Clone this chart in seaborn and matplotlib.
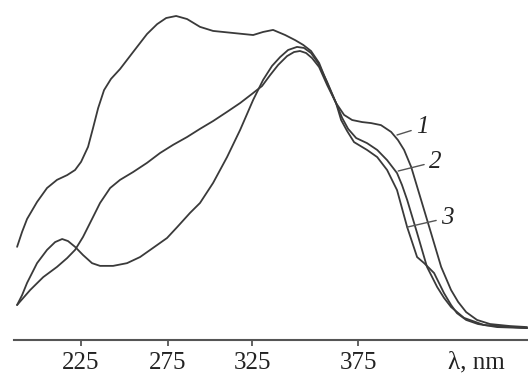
import numpy as np
import pandas as pd
import matplotlib
matplotlib.use("Agg")
import matplotlib.pyplot as plt
import seaborn as sns

# absorption spectra, wavelength (nm) vs absorbance (arb. units)
wl_1 = [187.8, 190.7, 193.6, 199.4, 205.2, 211.0, 216.9, 221.5, 225.0, 229.0, 231.9, 234.8,
        238.2, 242.2, 247.4, 254.9, 262.9, 268.7, 273.9, 279.8, 286.3, 294.0, 301.8, 313.7,
        325.5, 330.2, 334.9, 340.6, 345.3, 349.1, 352.8, 356.6, 360.4, 364.6, 368.4, 372.2,
        376.7, 380.5, 384.7, 389.0, 391.9, 394.5, 397.5, 401.7, 405.9, 410.2, 414.4, 417.4,
        420.8, 425.4, 430.9, 439.4, 446.6]
abs_1 = [.274, .318, .356, .406, .447, .471, .485, .500, .524, .568, .624, .682,
         .735, .768, .797, .847, .900, .929, .947, .953, .944, .921, .909, .903,
         .897, .906, .912, .897, .882, .868, .850, .815, .756, .697, .662, .647,
         .641, .638, .632, .612, .588, .559, .509, .412, .315, .215, .147, .112,
         .082, .059, .047, .041, .038]

wl_2 = [187.8, 195.4, 203.0, 211.0, 216.9, 221.5, 226.1, 231.9, 235.9, 241.7, 247.4, 254.9,
        262.9, 270.4, 278.0, 286.3, 294.0, 301.8, 310.1, 317.9, 325.0, 329.7, 333.5, 337.3,
        341.5, 344.8, 347.6, 350.5, 353.3, 356.6, 360.4, 364.6, 367.5, 370.3, 374.1, 378.8,
        383.1, 387.3, 391.5, 393.6, 395.8, 400.0, 404.2, 408.5, 411.4, 414.4, 419.9, 428.4,
        446.6]
abs_2 = [.103, .147, .185, .215, .241, .265, .303, .362, .403, .447, .471, .494,
         .521, .550, .574, .597, .621, .644, .671, .697, .724, .747, .779, .809,
         .835, .847, .850, .844, .829, .803, .750, .697, .653, .621, .594, .579,
         .559, .529, .491, .456, .412, .315, .215, .156, .124, .097, .065, .044,
         .035]

wl_3 = [187.8, 190.7, 193.6, 199.4, 205.2, 209.9, 214.0, 217.4, 221.5, 226.1, 231.3, 235.9,
        243.4, 251.4, 258.9, 266.4, 274.4, 280.4, 288.1, 294.0, 301.8, 310.1, 317.9, 325.5,
        330.2, 334.4, 338.2, 342.0, 346.2, 349.5, 352.8, 356.1, 360.4, 364.6, 367.0, 369.8,
        373.1, 378.8, 383.1, 387.3, 391.5, 395.8, 400.0, 403.0, 407.2, 411.4, 414.4, 416.9,
        420.8, 425.8, 433.9, 446.6]
abs_3 = [.103, .132, .168, .226, .265, .288, .297, .291, .274, .250, .226, .218,
         .218, .226, .244, .271, .300, .332, .374, .403, .462, .538, .618, .706,
         .765, .806, .832, .853, .862, .859, .844, .815, .759, .697, .647, .615,
         .582, .559, .538, .500, .441, .332, .244, .226, .197, .138, .103, .079,
         .059, .047, .038, .035]

curve_names = ["1", "2", "3"]
label_text_at = [(402.1, .626), (407.6, .524), (412.7, .359)]
label_points_to = [(391.5, .603), (392.0, .497), (395.8, .332)]

tick_nm = [225, 275, 325, 375, 425]
tick_text = ["225", "275", "325", "375", "λ, nm"]

# the printed axis is not evenly spaced, so map nm to position piecewise
knot_nm = [100, 175, 225, 275, 325, 375, 425, 475, 600]
knot_pos = [-134, -5, 81, 168, 252, 358, 476, 594, 889]


def fwd(x):
    return np.interp(x, knot_nm, knot_pos)


def inv(p):
    return np.interp(p, knot_pos, knot_nm)


frames = []
for name, wl, ab in zip(curve_names, [wl_1, wl_2, wl_3], [abs_1, abs_2, abs_3]):
    frames.append(pd.DataFrame({"wl": wl, "A": ab, "curve": name}))
data = pd.concat(frames, ignore_index=True)

sns.set_style("white")
plt.rcParams["font.family"] = ["Liberation Serif", "DejaVu Serif"]

fig = plt.figure(figsize=(5.28, 3.75), dpi=100)
ax = fig.add_axes([14 / 528, 35 / 375, 1 - 14 / 528, 340 / 375])
ax.set_xscale("function", functions=(fwd, inv))

sns.lineplot(data=data, x="wl", y="A", hue="curve", units="curve", estimator=None,
             palette=["#3a3a3a"] * 3, linewidth=1.3, sort=False, legend=False, ax=ax,
             solid_joinstyle="round", solid_capstyle="round")

ax.set_xlim(186.0, 447.0)
ax.set_ylim(0, 1.0)

for name, (tx, ty), (px, py) in zip(curve_names, label_text_at, label_points_to):
    ax.annotate(name, xy=(px, py), xytext=(tx, ty), fontsize=18, style="italic",
                ha="center", va="center", color="#222222",
                arrowprops=dict(arrowstyle="-", color="#555555", lw=1.0,
                                shrinkA=1, shrinkB=0))

for side in ["top", "right", "left"]:
    ax.spines[side].set_visible(False)
ax.spines["bottom"].set_color("#555555")
ax.spines["bottom"].set_linewidth(1.5)

ax.set_yticks([])
ax.set_xticks(tick_nm)
ax.set_xticklabels(tick_text)
ax.xaxis.set_minor_locator(matplotlib.ticker.NullLocator())
ax.tick_params(axis="x", direction="out", length=4.5, width=1.3, color="#555555",
               labelsize=18, pad=4, labelcolor="#222222", bottom=True)
ax.xaxis.get_major_ticks()[-1].tick1line.set_visible(False)
ax.set_xlabel("")
ax.set_ylabel("")

fig.savefig("out.png", dpi=100)
